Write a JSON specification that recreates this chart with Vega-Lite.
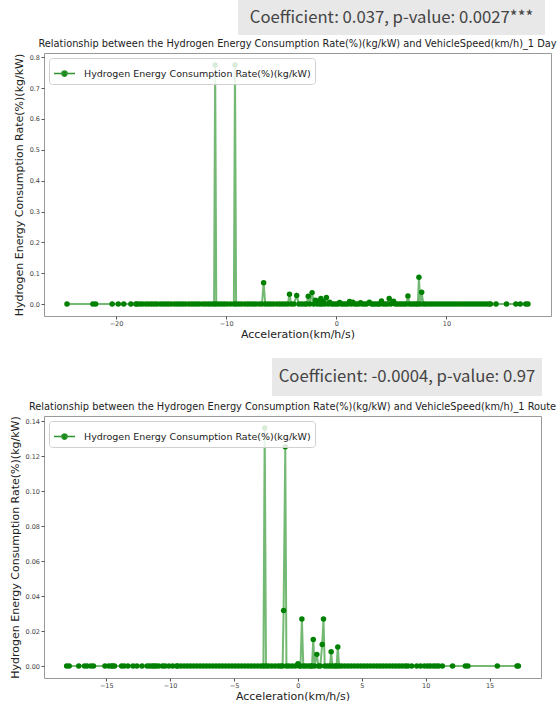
{
  "$schema": "https://vega.github.io/schema/vega-lite/v6.json",
  "padding": {"left": 8, "right": 4, "top": 0, "bottom": 0},
  "config": {
    "font": "DejaVu Sans",
    "view": {"stroke": null},
    "axis": {"labelFontSize": 6.5, "labelColor": "#444", "tickColor": "#555", "tickSize": 3, "domain": false, "grid": false, "titleFontSize": 11, "titleFontWeight": "normal", "titleColor": "#222", "labelPadding": 1.5},
    "axisX": {"titlePadding": 1},
    "axisY": {"titleFontSize": 11, "titlePadding": 5},
    "title": {"fontSize": 9.8, "fontWeight": "normal", "color": "#222", "anchor": "middle", "offset": 4}
  },
  "resolve": {"scale": {"color": "independent"}, "legend": {"color": "independent"}},
  "datasets": {
    "day": [
      {"acc": -24.45, "rate": 0}, {"acc": -22.1, "rate": 0}, {"acc": -21.85, "rate": 0}, {"acc": -20.35, "rate": 0}, {"acc": -19.8, "rate": 0}, {"acc": -19.3, "rate": 0}, {"acc": -18.65, "rate": 0}, {"acc": -18.2, "rate": 0},
      {"acc": -18.1, "rate": 0}, {"acc": -17.85, "rate": 0}, {"acc": -17.6, "rate": 0}, {"acc": -17.3, "rate": 0}, {"acc": -17.05, "rate": 0}, {"acc": -16.8, "rate": 0}, {"acc": -16.55, "rate": 0}, {"acc": -16.3, "rate": 0}, {"acc": -16.0, "rate": 0}, {"acc": -15.75, "rate": 0}, {"acc": -15.5, "rate": 0}, {"acc": -15.25, "rate": 0}, {"acc": -15.0, "rate": 0}, {"acc": -14.7, "rate": 0}, {"acc": -14.45, "rate": 0}, {"acc": -14.2, "rate": 0}, {"acc": -13.95, "rate": 0}, {"acc": -13.7, "rate": 0}, {"acc": -13.4, "rate": 0}, {"acc": -13.15, "rate": 0}, {"acc": -12.9, "rate": 0}, {"acc": -12.65, "rate": 0}, {"acc": -12.4, "rate": 0}, {"acc": -12.1, "rate": 0}, {"acc": -11.85, "rate": 0}, {"acc": -11.6, "rate": 0}, {"acc": -11.35, "rate": 0}, {"acc": -11.1, "rate": 0},
      {"acc": -11.0, "rate": 0.775},
      {"acc": -10.9, "rate": 0}, {"acc": -10.65, "rate": 0}, {"acc": -10.4, "rate": 0}, {"acc": -10.15, "rate": 0}, {"acc": -9.9, "rate": 0}, {"acc": -9.6, "rate": 0}, {"acc": -9.3, "rate": 0},
      {"acc": -9.2, "rate": 0.775},
      {"acc": -9.1, "rate": 0}, {"acc": -8.85, "rate": 0}, {"acc": -8.6, "rate": 0}, {"acc": -8.3, "rate": 0}, {"acc": -8.05, "rate": 0}, {"acc": -7.8, "rate": 0}, {"acc": -7.55, "rate": 0}, {"acc": -7.3, "rate": 0}, {"acc": -7.0, "rate": 0}, {"acc": -6.75, "rate": 0},
      {"acc": -6.6, "rate": 0.069},
      {"acc": -6.45, "rate": 0}, {"acc": -6.2, "rate": 0}, {"acc": -5.95, "rate": 0}, {"acc": -5.7, "rate": 0}, {"acc": -5.4, "rate": 0}, {"acc": -5.15, "rate": 0}, {"acc": -4.9, "rate": 0}, {"acc": -4.65, "rate": 0}, {"acc": -4.4, "rate": 0},
      {"acc": -4.25, "rate": 0.032},
      {"acc": -4.1, "rate": 0}, {"acc": -3.85, "rate": 0},
      {"acc": -3.6, "rate": 0.028},
      {"acc": -3.4, "rate": 0}, {"acc": -3.15, "rate": 0}, {"acc": -2.9, "rate": 0}, {"acc": -2.7, "rate": 0},
      {"acc": -2.55, "rate": 0.025},
      {"acc": -2.4, "rate": 0},
      {"acc": -2.2, "rate": 0.037},
      {"acc": -2.05, "rate": 0},
      {"acc": -1.9, "rate": 0.012},
      {"acc": -1.75, "rate": 0},
      {"acc": -1.6, "rate": 0.01},
      {"acc": -1.5, "rate": 0},
      {"acc": -1.4, "rate": 0.018},
      {"acc": -1.3, "rate": 0},
      {"acc": -1.2, "rate": 0.008},
      {"acc": -1.05, "rate": 0},
      {"acc": -0.9, "rate": 0.021},
      {"acc": -0.75, "rate": 0},
      {"acc": -0.6, "rate": 0.006},
      {"acc": -0.45, "rate": 0}, {"acc": -0.25, "rate": 0}, {"acc": -0.05, "rate": 0}, {"acc": 0.15, "rate": 0},
      {"acc": 0.3, "rate": 0.005},
      {"acc": 0.45, "rate": 0}, {"acc": 0.65, "rate": 0}, {"acc": 0.85, "rate": 0}, {"acc": 1.05, "rate": 0},
      {"acc": 1.2, "rate": 0.008},
      {"acc": 1.35, "rate": 0},
      {"acc": 1.5, "rate": 0.006},
      {"acc": 1.65, "rate": 0}, {"acc": 1.85, "rate": 0}, {"acc": 2.05, "rate": 0},
      {"acc": 2.2, "rate": 0.004},
      {"acc": 2.35, "rate": 0}, {"acc": 2.55, "rate": 0}, {"acc": 2.75, "rate": 0},
      {"acc": 3.0, "rate": 0.006},
      {"acc": 3.2, "rate": 0}, {"acc": 3.4, "rate": 0}, {"acc": 3.6, "rate": 0}, {"acc": 3.8, "rate": 0}, {"acc": 3.95, "rate": 0},
      {"acc": 4.1, "rate": 0.01},
      {"acc": 4.25, "rate": 0}, {"acc": 4.45, "rate": 0}, {"acc": 4.65, "rate": 0},
      {"acc": 4.8, "rate": 0.018},
      {"acc": 4.95, "rate": 0},
      {"acc": 5.2, "rate": 0.009},
      {"acc": 5.35, "rate": 0}, {"acc": 5.55, "rate": 0}, {"acc": 5.75, "rate": 0}, {"acc": 5.95, "rate": 0}, {"acc": 6.15, "rate": 0}, {"acc": 6.35, "rate": 0},
      {"acc": 6.5, "rate": 0.026},
      {"acc": 6.65, "rate": 0}, {"acc": 6.85, "rate": 0}, {"acc": 7.05, "rate": 0}, {"acc": 7.25, "rate": 0}, {"acc": 7.4, "rate": 0},
      {"acc": 7.5, "rate": 0.087},
      {"acc": 7.62, "rate": 0},
      {"acc": 7.75, "rate": 0.038},
      {"acc": 7.9, "rate": 0}, {"acc": 8.1, "rate": 0}, {"acc": 8.35, "rate": 0}, {"acc": 8.6, "rate": 0}, {"acc": 8.85, "rate": 0}, {"acc": 9.1, "rate": 0}, {"acc": 9.35, "rate": 0}, {"acc": 9.6, "rate": 0}, {"acc": 9.85, "rate": 0}, {"acc": 10.1, "rate": 0}, {"acc": 10.35, "rate": 0}, {"acc": 10.6, "rate": 0}, {"acc": 10.85, "rate": 0}, {"acc": 11.1, "rate": 0}, {"acc": 11.35, "rate": 0}, {"acc": 11.6, "rate": 0}, {"acc": 11.85, "rate": 0}, {"acc": 12.1, "rate": 0}, {"acc": 12.35, "rate": 0}, {"acc": 12.6, "rate": 0}, {"acc": 12.85, "rate": 0}, {"acc": 13.1, "rate": 0}, {"acc": 13.35, "rate": 0}, {"acc": 13.6, "rate": 0}, {"acc": 13.85, "rate": 0}, {"acc": 14.0, "rate": 0},
      {"acc": 14.5, "rate": 0}, {"acc": 15.45, "rate": 0}, {"acc": 16.3, "rate": 0}, {"acc": 16.7, "rate": 0}, {"acc": 17.2, "rate": 0}, {"acc": 17.4, "rate": 0}
    ],
    "route": [
      {"acc": -18.1, "rate": 0}, {"acc": -17.9, "rate": 0}, {"acc": -17.15, "rate": 0}, {"acc": -16.7, "rate": 0}, {"acc": -16.5, "rate": 0}, {"acc": -16.2, "rate": 0}, {"acc": -16.0, "rate": 0}, {"acc": -15.1, "rate": 0}, {"acc": -14.8, "rate": 0}, {"acc": -14.6, "rate": 0}, {"acc": -14.5, "rate": 0}, {"acc": -14.35, "rate": 0}, {"acc": -13.8, "rate": 0}, {"acc": -13.6, "rate": 0}, {"acc": -13.3, "rate": 0}, {"acc": -12.9, "rate": 0}, {"acc": -12.6, "rate": 0}, {"acc": -12.2, "rate": 0}, {"acc": -11.8, "rate": 0}, {"acc": -11.6, "rate": 0}, {"acc": -11.4, "rate": 0}, {"acc": -11.25, "rate": 0}, {"acc": -11.1, "rate": 0}, {"acc": -10.9, "rate": 0}, {"acc": -10.6, "rate": 0}, {"acc": -10.4, "rate": 0}, {"acc": -10.1, "rate": 0}, {"acc": -9.8, "rate": 0}, {"acc": -9.5, "rate": 0},
      {"acc": -9.4, "rate": 0}, {"acc": -9.15, "rate": 0}, {"acc": -8.9, "rate": 0}, {"acc": -8.65, "rate": 0}, {"acc": -8.4, "rate": 0}, {"acc": -8.15, "rate": 0}, {"acc": -7.9, "rate": 0}, {"acc": -7.65, "rate": 0}, {"acc": -7.4, "rate": 0}, {"acc": -7.15, "rate": 0}, {"acc": -6.9, "rate": 0}, {"acc": -6.65, "rate": 0}, {"acc": -6.4, "rate": 0}, {"acc": -6.15, "rate": 0}, {"acc": -5.9, "rate": 0}, {"acc": -5.65, "rate": 0}, {"acc": -5.4, "rate": 0}, {"acc": -5.15, "rate": 0}, {"acc": -4.9, "rate": 0}, {"acc": -4.65, "rate": 0}, {"acc": -4.4, "rate": 0}, {"acc": -4.15, "rate": 0}, {"acc": -3.9, "rate": 0}, {"acc": -3.65, "rate": 0}, {"acc": -3.4, "rate": 0}, {"acc": -3.15, "rate": 0}, {"acc": -2.9, "rate": 0}, {"acc": -2.7, "rate": 0},
      {"acc": -2.6, "rate": 0.136},
      {"acc": -2.5, "rate": 0}, {"acc": -2.3, "rate": 0}, {"acc": -2.05, "rate": 0}, {"acc": -1.8, "rate": 0}, {"acc": -1.55, "rate": 0}, {"acc": -1.35, "rate": 0}, {"acc": -1.2, "rate": 0},
      {"acc": -1.12, "rate": 0.0318},
      {"acc": -0.99, "rate": 0.1253},
      {"acc": -0.9, "rate": 0}, {"acc": -0.7, "rate": 0}, {"acc": -0.45, "rate": 0}, {"acc": -0.2, "rate": 0},
      {"acc": 0.0, "rate": 0.0013},
      {"acc": 0.1, "rate": 0}, {"acc": 0.2, "rate": 0},
      {"acc": 0.31, "rate": 0.0269},
      {"acc": 0.42, "rate": 0}, {"acc": 0.6, "rate": 0}, {"acc": 0.8, "rate": 0}, {"acc": 1.0, "rate": 0}, {"acc": 1.1, "rate": 0},
      {"acc": 1.2, "rate": 0.0152},
      {"acc": 1.3, "rate": 0},
      {"acc": 1.48, "rate": 0.0067},
      {"acc": 1.6, "rate": 0}, {"acc": 1.75, "rate": 0},
      {"acc": 1.9, "rate": 0.0124},
      {"acc": 2.0, "rate": 0.0269},
      {"acc": 2.1, "rate": 0}, {"acc": 2.3, "rate": 0}, {"acc": 2.5, "rate": 0},
      {"acc": 2.6, "rate": 0.0082},
      {"acc": 2.7, "rate": 0}, {"acc": 2.9, "rate": 0}, {"acc": 3.02, "rate": 0},
      {"acc": 3.12, "rate": 0.0109},
      {"acc": 3.22, "rate": 0}, {"acc": 3.4, "rate": 0}, {"acc": 3.65, "rate": 0}, {"acc": 3.9, "rate": 0}, {"acc": 4.15, "rate": 0}, {"acc": 4.4, "rate": 0}, {"acc": 4.65, "rate": 0}, {"acc": 4.9, "rate": 0}, {"acc": 5.15, "rate": 0}, {"acc": 5.4, "rate": 0}, {"acc": 5.65, "rate": 0}, {"acc": 5.9, "rate": 0}, {"acc": 6.15, "rate": 0}, {"acc": 6.4, "rate": 0}, {"acc": 6.65, "rate": 0}, {"acc": 6.9, "rate": 0}, {"acc": 7.15, "rate": 0}, {"acc": 7.4, "rate": 0}, {"acc": 7.65, "rate": 0}, {"acc": 7.9, "rate": 0}, {"acc": 8.15, "rate": 0}, {"acc": 8.4, "rate": 0}, {"acc": 8.6, "rate": 0},
      {"acc": 8.9, "rate": 0}, {"acc": 9.3, "rate": 0}, {"acc": 9.6, "rate": 0}, {"acc": 9.9, "rate": 0}, {"acc": 10.15, "rate": 0}, {"acc": 10.35, "rate": 0}, {"acc": 10.6, "rate": 0}, {"acc": 10.8, "rate": 0}, {"acc": 11.0, "rate": 0}, {"acc": 11.3, "rate": 0}, {"acc": 12.1, "rate": 0}, {"acc": 13.1, "rate": 0}, {"acc": 13.3, "rate": 0}, {"acc": 15.6, "rate": 0}, {"acc": 17.15, "rate": 0}, {"acc": 17.25, "rate": 0}
    ]
  },
  "spacing": 18,
  "vconcat": [
    {
      "spacing": 3,
      "resolve": {"scale": {"color": "independent"}, "legend": {"color": "independent"}},
      "vconcat": [
        {
          "spacing": 0,
          "hconcat": [
            {"width": 194, "height": 35, "data": {"values": [{"t": ""}]}, "mark": {"type": "text"}, "encoding": {"text": {"field": "t"}}},
            {"width": 307, "height": 35, "view": {"fill": "#e8e8e8", "stroke": null}, "data": {"values": [{"label": "Coefficient: 0.037, p-value: 0.0027***"}]}, "mark": {"type": "text", "font": "Noto Sans CJK KR", "fontSize": 16.7, "color": "#444"}, "encoding": {"text": {"field": "label"}}}
          ]
        },
        {
          "width": 507, "height": 263,
          "title": "Relationship between the Hydrogen Energy Consumption Rate(%)(kg/kW) and VehicleSpeed(km/h)_1 Day",
          "view": {"stroke": "#999"},
          "data": {"name": "day"},
          "encoding": {
            "x": {"field": "acc", "type": "quantitative", "scale": {"domain": [-26.54, 19.49], "nice": false, "zero": false}, "axis": {"values": [-20, -10, 0, 10], "title": "Acceleration(km/h/s)"}},
            "y": {"field": "rate", "type": "quantitative", "scale": {"domain": [-0.0388, 0.814], "nice": false, "zero": false}, "axis": {"values": [0, 0.1, 0.2, 0.3, 0.4, 0.5, 0.6, 0.7, 0.8], "format": ".1f", "title": "Hydrogen Energy Consumption Rate(%)(kg/kW)"}}
          },
          "layer": [
            {"mark": {"type": "line", "strokeWidth": 2, "opacity": 0.55, "color": "#008000"}, "encoding": {}},
            {
              "mark": {"type": "point", "filled": true, "size": 30, "opacity": 1},
              "encoding": {
                "color": {"datum": "Hydrogen Energy Consumption Rate(%)(kg/kW)", "scale": {"range": ["#008000"]},
                  "legend": {"title": null, "orient": "top-left", "offset": 5, "fillColor": "rgba(255,255,255,0.85)", "strokeColor": "#d0d0d0", "cornerRadius": 3, "padding": 4, "labelFontSize": 9.5, "labelLimit": 0, "labelColor": "#222", "labelFont": "DejaVu Sans", "labelOffset": 8, "symbolType": "M-1,0L1,0M-0.25,0A0.25,0.25,0,1,0,0.25,0A0.25,0.25,0,1,0,-0.25,0Z", "symbolSize": 441, "symbolStrokeWidth": 1.5, "symbolOpacity": 1,
                    "encode": {"symbols": {"update": {"fill": {"value": "#008000"}, "stroke": {"value": "#2f932f"}, "strokeWidth": {"value": 1.5}, "opacity": {"value": 1}}}}}
                }
              }
            }
          ]
        }
      ]
    },
    {
      "spacing": 5,
      "resolve": {"scale": {"color": "independent"}, "legend": {"color": "independent"}},
      "vconcat": [
        {
          "spacing": 0,
          "hconcat": [
            {"width": 228, "height": 38, "data": {"values": [{"t": ""}]}, "mark": {"type": "text"}, "encoding": {"text": {"field": "t"}}},
            {"width": 270, "height": 38, "view": {"fill": "#e8e8e8", "stroke": null}, "data": {"values": [{"label": "Coefficient: -0.0004, p-value: 0.97"}]}, "mark": {"type": "text", "font": "Noto Sans CJK KR", "fontSize": 16.7, "color": "#444"}, "encoding": {"text": {"field": "label"}}}
          ]
        },
        {
          "width": 497, "height": 262,
          "title": "Relationship between the Hydrogen Energy Consumption Rate(%)(kg/kW) and VehicleSpeed(km/h)_1 Route",
          "view": {"stroke": "#999"},
          "data": {"name": "route"},
          "encoding": {
            "x": {"field": "acc", "type": "quantitative", "scale": {"domain": [-19.87, 19.02], "nice": false, "zero": false}, "axis": {"values": [-15, -10, -5, 0, 5, 10, 15], "title": "Acceleration(km/h/s)"}},
            "y": {"field": "rate", "type": "quantitative", "scale": {"domain": [-0.0068, 0.1429], "nice": false, "zero": false}, "axis": {"values": [0, 0.02, 0.04, 0.06, 0.08, 0.1, 0.12, 0.14], "format": ".2f", "title": "Hydrogen Energy Consumption Rate(%)(kg/kW)"}}
          },
          "layer": [
            {"mark": {"type": "line", "strokeWidth": 2, "opacity": 0.55, "color": "#008000"}, "encoding": {}},
            {
              "mark": {"type": "point", "filled": true, "size": 30, "opacity": 1},
              "encoding": {
                "color": {"datum": "Hydrogen Energy Consumption Rate(%)(kg/kW)", "scale": {"range": ["#008000"]},
                  "legend": {"title": null, "orient": "top-left", "offset": 5, "fillColor": "rgba(255,255,255,0.85)", "strokeColor": "#d0d0d0", "cornerRadius": 3, "padding": 4, "labelFontSize": 9.5, "labelLimit": 0, "labelColor": "#222", "labelFont": "DejaVu Sans", "labelOffset": 8, "symbolType": "M-1,0L1,0M-0.25,0A0.25,0.25,0,1,0,0.25,0A0.25,0.25,0,1,0,-0.25,0Z", "symbolSize": 441, "symbolStrokeWidth": 1.5, "symbolOpacity": 1,
                    "encode": {"symbols": {"update": {"fill": {"value": "#008000"}, "stroke": {"value": "#2f932f"}, "strokeWidth": {"value": 1.5}, "opacity": {"value": 1}}}}}
                }
              }
            }
          ]
        }
      ]
    }
  ]
}
